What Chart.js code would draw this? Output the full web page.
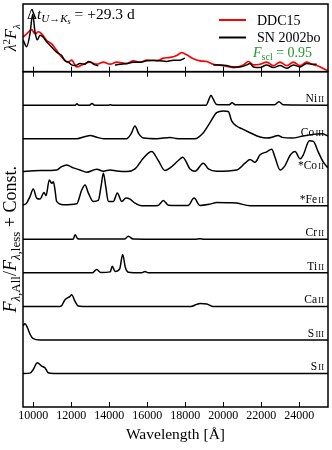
<!DOCTYPE html>
<html>
<head>
<meta charset="utf-8">
<script src="https://cdn.jsdelivr.net/npm/chart.js@4"></script>
<style>
  html, body { margin: 0; padding: 0; background: #fff; }
  #wrap { width: 332px; height: 450px; position: relative; }
</style>
</head>
<body>
<div id="wrap"><canvas id="c"></canvas></div>
<script>
// x axis
const xTicks = [10000, 12000, 14000, 16000, 18000, 20000, 22000, 24000];

// top panel: lambda^2 F_lambda
const ddc15Wave = [9460, 9653, 9916, 10091, 10267, 10442, 10705, 10968, 11319, 11582, 11845, 12021, 12284, 12635, 12985, 13340, 13690, 14040, 14390, 14915, 15265, 15620, 15970, 16495, 16845, 17200, 17550, 17810, 18075, 18425, 18775, 19130, 19480, 20005, 20530, 21055, 21320, 21580, 21935, 22285, 22635, 22985, 23340, 23690, 24040, 24390, 24655, 24915, 25510];
const ddc15Flux = [0.51, 0.56, 0.62, 0.56, 0.59, 0.56, 0.46, 0.41, 0.28, 0.19, 0.14, 0.17, 0.07, 0.11, 0.14, 0.11, 0.14, 0.11, 0.14, 0.12, 0.16, 0.14, 0.17, 0.16, 0.20, 0.21, 0.24, 0.28, 0.25, 0.19, 0.16, 0.15, 0.11, 0.09, 0.06, 0.10, 0.15, 0.10, 0.11, 0.14, 0.09, 0.14, 0.09, 0.14, 0.09, 0.14, 0.11, 0.09, 0.01];
const sn02boWave = [9460, 9653, 9828, 9969, 10091, 10214, 10355, 10530, 10705, 10881, 11144, 11319, 11495, 11670, 11845, 12021, 12196, 12459, 12722, 12898, 13073, 13249, 13424, 13860, 14301, 14564, 14915, 15266, 15617, 15967, 16318, 16669, 17020, 17371, 17721, 17984, 18700, 19475, 19826, 20177, 20528, 20878, 21229, 21405, 21580, 21931, 22282, 22633, 22984, 23335, 23685, 24036, 24387, 24650, 24913];
const sn02boFlux = [0.47, 0.37, 0.56, 0.85, 0.59, 0.47, 0.54, 0.51, 0.44, 0.39, 0.31, 0.27, 0.24, 0.16, 0.14, 0.10, 0.09, 0.12, 0.11, 0.15, 0.13, 0.10, 0.09, null, 0.10, 0.11, 0.12, 0.14, 0.14, 0.16, 0.17, 0.16, 0.15, 0.17, 0.17, 0.20, null, 0.10, 0.10, 0.09, 0.07, 0.07, 0.10, 0.12, 0.07, 0.06, 0.10, 0.06, 0.09, 0.05, 0.10, 0.07, 0.12, 0.11, 0.11];

// bottom panel: F_all / F_less - 1 per ion
const niWave = [9460, 12200, 12300, 12400, 12950, 13090, 13230, 13950, 14050, 14200, 19100, 19250, 19350, 19470, 19650, 20300, 20460, 20650, 22700, 22930, 23150, 25510];
const niFlux = [0, 0, 0.04, 0, 0, 0.05, 0, 0, 0.015, 0, 0, 0.18, 0.3, 0.18, 0.02, 0.01, 0.07, 0.01, 0.01, 0.1, 0.01, 0];
const co3Wave = [9460, 12300, 12700, 13000, 13300, 13700, 14900, 15150, 15350, 15550, 15800, 16500, 17200, 17500, 18500, 18950, 19300, 19650, 20000, 20265, 20440, 20700, 20970, 21410, 21935, 22300, 22600, 22880, 23100, 23600, 24200, 24700, 25200, 25510];
const co3Flux = [0, 0, 0.06, 0.1, 0.05, 0, 0, 0.15, 0.38, 0.15, 0.02, 0, 0.04, 0.01, 0, 0.18, 0.48, 0.78, 0.83, 0.81, 0.53, 0.38, 0.3, 0.18, 0.05, 0.02, 0.05, 0.1, 0.04, 0.02, 0.08, 0.13, 0.15, 0.08];
const co2Wave = [9460, 9650, 10355, 11230, 11495, 11760, 12110, 12460, 12810, 13340, 13690, 14040, 14390, 14915, 15355, 15790, 16230, 16580, 16930, 17200, 17635, 17865, 18250, 18510, 18950, 19215, 19655, 20700, 21145, 21410, 21670, 21935, 22285, 22550, 22720, 22985, 23250, 23510, 23775, 24040, 24210, 24530, 24740, 25000, 25265, 25510];
const co2Flux = [0.02, 0.03, 0.05, 0.07, 0.17, 0.22, 0.13, 0.07, 0, 0.09, 0.03, 0.07, 0.04, 0.02, 0.1, 0.42, 0.62, 0.35, 0.05, 0.13, 0.35, 0.45, 0.1, 0.03, 0.27, 0.1, 0.03, 0.07, 0.27, 0.38, 0.3, 0.52, 0.61, 0.69, 0.45, 0.07, 0.2, 0.5, 0.62, 0.4, 0.52, 0.94, 0.92, 0.6, 0.3, 0.13];
const feWave = [9460, 9650, 9830, 10000, 10180, 10355, 10565, 10670, 10845, 10970, 11055, 11145, 11230, 11580, 12285, 12550, 12725, 12900, 13160, 13420, 13565, 13690, 13815, 13950, 14215, 14425, 14655, 14880, 15090, 15355, 15705, 16580, 16845, 17110, 18150, 18460, 18775, 19300, 19655, 20300, 20710, 21410, 25510];
const feFlux = [0.02, 0.08, 0.28, 0.5, 0.23, 0.2, 0.4, 0.3, 0.77, 0.67, 0.72, 0.47, 0.13, 0.03, 0.06, 0.47, 0.62, 0.38, 0.13, 0.16, 0.57, 0.97, 0.57, 0.13, 0.13, 0.38, 0.13, 0.23, 0.2, 0.08, 0, 0.01, 0.16, 0.02, 0.01, 0.23, 0.01, 0.05, 0.1, 0.09, 0.08, 0, 0];
const crWave = [9460, 12100, 12200, 12320, 12450, 14800, 15000, 15250, 18500, 18775, 19000, 25510];
const crFlux = [0, 0, 0.14, 0.03, 0.01, 0.01, 0.09, 0.01, 0, 0.02, 0, 0];
const tiWave = [9460, 13100, 13340, 13550, 14050, 14160, 14300, 14550, 14705, 14850, 15000, 15700, 15880, 16050, 25510];
const tiFlux = [0, 0, 0.1, 0.01, 0.03, 0.2, 0.04, 0.12, 0.55, 0.15, 0.02, 0, 0.04, 0, 0];
const caWave = [9460, 11400, 11500, 11670, 11935, 12020, 12200, 12370, 12600, 18300, 18600, 18775, 19130, 19450, 25510];
const caFlux = [0, 0, 0.03, 0.2, 0.3, 0.35, 0.15, 0.01, 0, 0, 0.06, 0.09, 0.07, 0, 0];
const s3Wave = [9460, 9565, 9690, 9830, 10000, 10355, 25510];
const s3Flux = [0.42, 0.48, 0.37, 0.17, 0.04, 0, 0];
const s2Wave = [9460, 9830, 10000, 10215, 10440, 10615, 10790, 11055, 25510];
const s2Flux = [0, 0.01, 0.12, 0.32, 0.22, 0.17, 0.02, 0, 0];

const ionNames = ['Ni', 'Co', '*Co', '*Fe', 'Cr', 'Ti', 'Ca', 'S', 'S'];
const ionStages = ['II', 'III', 'II', 'II', 'II', 'II', 'II', 'III', 'II'];
const ionOffsets = [9, 8, 7, 6, 5, 4, 3, 2, 1];
const ionWaves = [niWave, co3Wave, co2Wave, feWave, crWave, tiWave, caWave, s3Wave, s2Wave];
const ionFluxes = [niFlux, co3Flux, co2Flux, feFlux, crFlux, tiFlux, caFlux, s3Flux, s2Flux];

const SERIF = '"Liberation Serif", "DejaVu Serif", serif';

function pts(wave, flux, off) {
  return wave.map((w, i) => ({ x: w, y: flux[i] === null ? null : flux[i] + off }));
}

const lineBase = {
  pointRadius: 0,
  borderWidth: 1.5,
  fill: false,
  cubicInterpolationMode: 'monotone',
  spanGaps: false
};

const datasets = [
  Object.assign({}, lineBase, { label: 'SN 2002bo', data: pts(sn02boWave, sn02boFlux, 0), borderColor: '#000', yAxisID: 'yTop', order: 0 }),
  Object.assign({}, lineBase, { label: 'DDC15', data: pts(ddc15Wave, ddc15Flux, 0), borderColor: '#ff0000', borderWidth: 1.7, yAxisID: 'yTop', order: 1 })
];
ionNames.forEach((n, k) => {
  datasets.push(Object.assign({}, lineBase, {
    label: n + ' ' + ionStages[k],
    data: pts(ionWaves[k], ionFluxes[k], ionOffsets[k]),
    borderColor: '#000',
    yAxisID: 'yBot',
    order: 2
  }));
});

// text with sub/superscripts: parts = [text, size, dy, style]
function rich(ctx, parts, x, y, align, color) {
  const fnt = p => (p[3] || '') + ' ' + p[1] + 'px ' + SERIF;
  let w = 0;
  parts.forEach(p => { ctx.font = fnt(p); w += ctx.measureText(p[0]).width; });
  let cx = align === 'right' ? x - w : (align === 'center' ? x - w / 2 : x);
  ctx.fillStyle = color || '#000';
  ctx.textAlign = 'left';
  ctx.textBaseline = 'alphabetic';
  parts.forEach(p => {
    ctx.font = fnt(p);
    ctx.fillText(p[0], cx, y + (p[2] || 0));
    cx += ctx.measureText(p[0]).width;
  });
}

const decor = {
  id: 'decor',
  afterDraw(chart) {
    const ctx = chart.ctx;
    const x = chart.scales.x, yt = chart.scales.yTop, yb = chart.scales.yBot;
    const L = chart.chartArea.left, R = chart.chartArea.right;
    ctx.save();
    // frames
    ctx.strokeStyle = '#000';
    ctx.lineWidth = 1.5;
    ctx.strokeRect(L, yt.top, R - L, yt.bottom - yt.top);
    ctx.strokeRect(L, yb.top, R - L, yb.bottom - yb.top);
    // inward ticks
    ctx.lineWidth = 1;
    xTicks.forEach(v => {
      const px = Math.round(x.getPixelForValue(v)) + 0.5;
      ctx.beginPath();
      ctx.moveTo(px, yt.bottom); ctx.lineTo(px, yt.bottom - 5);
      ctx.moveTo(px, yb.top); ctx.lineTo(px, yb.top + 5);
      ctx.moveTo(px, yb.bottom); ctx.lineTo(px, yb.bottom - 5);
      ctx.stroke();
    });
    // ion labels
    ionNames.forEach((n, k) => {
      const py = yb.getPixelForValue(ionOffsets[k]) - 3;
      rich(ctx, [[n, 11.5, 0, ''], [' ', 5, 0, ''], [ionStages[k], 8.5, 0, '']], R - 4, py, 'right');
    });
    // annotation
    rich(ctx, [['\u0394', 15.5, 0, ''], ['t', 15.5, 0, 'italic'], ['U', 11, 3, 'italic'], ['\u2192', 11, 3, ''], ['K', 11, 3, 'italic'], ['s', 8, 5, 'italic'], [' = +29.3 d', 15.5, 0, '']], 27, 19, 'left');
    // legend
    ctx.lineWidth = 2;
    ctx.strokeStyle = '#ff0000';
    ctx.beginPath(); ctx.moveTo(219, 20); ctx.lineTo(246, 20); ctx.stroke();
    ctx.strokeStyle = '#000';
    ctx.beginPath(); ctx.moveTo(219, 37.5); ctx.lineTo(246, 37.5); ctx.stroke();
    rich(ctx, [['DDC15', 14, 0, '']], 257, 25, 'left');
    rich(ctx, [['SN 2002bo', 14, 0, '']], 257, 42, 'left');
    rich(ctx, [['F', 14, 0, 'italic'], ['scl', 10, 3, ''], [' = 0.95', 14, 0, '']], 253, 57, 'left', '#229a22');
    // y labels
    ctx.save();
    ctx.translate(16, (yt.top + yt.bottom) / 2);
    ctx.rotate(-Math.PI / 2);
    rich(ctx, [['\u03bb', 16, 0, 'italic'], ['2', 11, -6, ''], ['F', 16, 0, 'italic'], ['\u03bb', 11, 4, 'italic']], 0, 0, 'center');
    ctx.restore();
    ctx.save();
    ctx.translate(16, (yb.top + yb.bottom) / 2);
    ctx.rotate(-Math.PI / 2);
    rich(ctx, [['F', 18, 0, 'italic'], ['\u03bb', 13, 4, 'italic'], [',All', 13, 4, ''], ['/', 18, 0, ''], ['F', 18, 0, 'italic'], ['\u03bb', 13, 4, 'italic'], [',less', 13, 4, ''], [' + Const.', 18, 0, '']], 0, 0, 'center');
    ctx.restore();
    ctx.restore();
  }
};

const hidden = {
  display: true,
  ticks: { display: false },
  grid: { display: false, drawTicks: false },
  border: { display: false }
};

new Chart(document.getElementById('c'), {
  type: 'line',
  data: { datasets: datasets },
  options: {
    responsive: true,
    maintainAspectRatio: false,
    animation: false,
    layout: { padding: { left: 23, right: 4, top: 4, bottom: 6 } },
    plugins: { legend: { display: false }, tooltip: { enabled: false } },
    scales: {
      x: {
        type: 'linear',
        min: 9460,
        max: 25510,
        afterBuildTicks: s => { s.ticks = xTicks.map(v => ({ value: v })); },
        ticks: { color: '#000', padding: 2, maxRotation: 0, font: { family: SERIF, size: 12 }, callback: v => String(v) },
        grid: { display: false, drawTicks: false },
        border: { display: false },
        title: { display: true, text: 'Wavelength [\u00c5]', color: '#000', font: { family: SERIF, size: 15.5 }, padding: { top: 0, bottom: 0 } }
      },
      yBot: Object.assign({}, hidden, { type: 'linear', position: 'left', stack: 'panels', stackWeight: 337, min: 0, max: 10 }),
      yTop: Object.assign({}, hidden, { type: 'linear', position: 'left', stack: 'panels', stackWeight: 68, min: 0, max: 1 })
    }
  },
  plugins: [decor]
});
</script>
</body>
</html>
